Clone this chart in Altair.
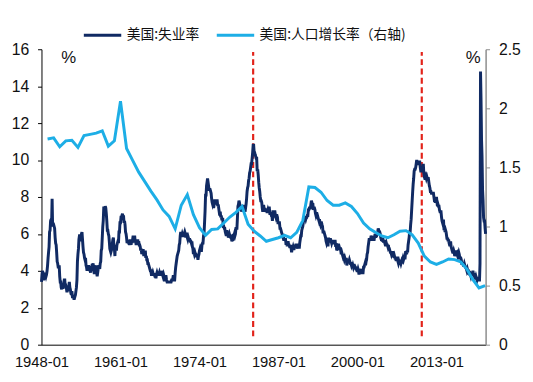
import altair as alt
import pandas as pd

# ---------------- data ----------------
unemp_start = "1948-01-01"
unemployment = [
    3.4, 3.8, 4.0, 3.9, 3.5, 3.6, 3.6, 3.9, 3.8, 3.7, 3.8, 4.0,   # 1948
    4.3, 4.7, 5.0, 5.3, 6.1, 6.2, 6.7, 6.8, 6.6, 7.9, 6.4, 6.6,   # 1949
    6.5, 6.4, 6.3, 5.8, 5.5, 5.4, 5.0, 4.5, 4.4, 4.2, 4.2, 4.3,   # 1950
    3.7, 3.4, 3.4, 3.1, 3.0, 3.2, 3.1, 3.1, 3.3, 3.5, 3.5, 3.1,   # 1951
    3.2, 3.1, 2.9, 2.9, 3.0, 3.0, 3.2, 3.4, 3.1, 3.0, 2.8, 2.7,   # 1952
    2.9, 2.6, 2.6, 2.7, 2.5, 2.5, 2.6, 2.7, 2.9, 3.1, 3.5, 4.5,   # 1953
    4.9, 5.2, 5.7, 5.9, 5.9, 5.6, 5.8, 6.0, 6.1, 5.7, 5.3, 5.0,   # 1954
    4.9, 4.7, 4.6, 4.7, 4.3, 4.2, 4.0, 4.2, 4.1, 4.3, 4.2, 4.2,   # 1955
    4.0, 3.9, 4.2, 4.0, 4.3, 4.3, 4.4, 4.1, 3.9, 3.9, 4.3, 4.2,   # 1956
    4.2, 3.9, 3.7, 3.9, 4.1, 4.3, 4.2, 4.1, 4.4, 4.5, 5.1, 5.2,   # 1957
    5.8, 6.4, 6.7, 7.4, 7.4, 7.3, 7.5, 7.4, 7.1, 6.7, 6.2, 6.2,   # 1958
    6.0, 5.9, 5.6, 5.2, 5.1, 5.0, 5.1, 5.2, 5.5, 5.7, 5.8, 5.3,   # 1959
    5.2, 4.8, 5.4, 5.2, 5.1, 5.4, 5.5, 5.6, 5.5, 6.1, 6.1, 6.6,   # 1960
    6.6, 6.9, 6.9, 7.0, 7.1, 6.9, 7.0, 6.6, 6.7, 6.5, 6.1, 6.0,   # 1961
    5.8, 5.5, 5.6, 5.6, 5.5, 5.5, 5.4, 5.7, 5.6, 5.4, 5.7, 5.5,   # 1962
    5.7, 5.9, 5.7, 5.7, 5.9, 5.6, 5.6, 5.4, 5.5, 5.5, 5.7, 5.5,   # 1963
    5.6, 5.4, 5.4, 5.3, 5.1, 5.2, 4.9, 5.0, 5.1, 5.1, 4.8, 5.0,   # 1964
    4.9, 5.1, 4.7, 4.8, 4.6, 4.6, 4.4, 4.4, 4.3, 4.2, 4.1, 4.0,   # 1965
    4.0, 3.8, 3.8, 3.8, 3.9, 3.8, 3.8, 3.8, 3.7, 3.7, 3.6, 3.8,   # 1966
    3.9, 3.8, 3.8, 3.8, 3.8, 3.9, 3.8, 3.8, 3.8, 4.0, 3.9, 3.8,   # 1967
    3.7, 3.8, 3.7, 3.5, 3.5, 3.7, 3.7, 3.5, 3.4, 3.4, 3.4, 3.4,   # 1968
    3.4, 3.4, 3.4, 3.4, 3.4, 3.5, 3.5, 3.5, 3.7, 3.7, 3.5, 3.5,   # 1969
    3.9, 4.2, 4.4, 4.6, 4.8, 4.9, 5.0, 5.1, 5.4, 5.5, 5.9, 6.1,   # 1970
    5.9, 5.9, 6.0, 5.9, 5.9, 5.9, 6.0, 6.1, 6.0, 5.8, 6.0, 6.0,   # 1971
    5.8, 5.7, 5.8, 5.7, 5.7, 5.7, 5.6, 5.6, 5.5, 5.6, 5.3, 5.2,   # 1972
    4.9, 5.0, 4.9, 5.0, 4.9, 4.9, 4.8, 4.8, 4.8, 4.6, 4.8, 4.9,   # 1973
    5.1, 5.2, 5.1, 5.1, 5.1, 5.4, 5.5, 5.5, 5.9, 6.0, 6.6, 7.2,   # 1974
    8.1, 8.1, 8.6, 8.8, 9.0, 8.8, 8.6, 8.4, 8.4, 8.4, 8.3, 8.2,   # 1975
    7.9, 7.7, 7.6, 7.7, 7.4, 7.6, 7.8, 7.8, 7.6, 7.7, 7.8, 7.8,   # 1976
    7.5, 7.6, 7.4, 7.2, 7.0, 7.2, 6.9, 7.0, 6.8, 6.8, 6.8, 6.4,   # 1977
    6.4, 6.3, 6.3, 6.1, 6.0, 5.9, 6.2, 5.9, 6.0, 5.8, 5.9, 6.0,   # 1978
    5.9, 5.9, 5.8, 5.8, 5.6, 5.7, 5.7, 6.0, 5.9, 6.0, 5.9, 6.0,   # 1979
    6.3, 6.3, 6.3, 6.9, 7.5, 7.6, 7.8, 7.7, 7.5, 7.5, 7.5, 7.2,   # 1980
    7.5, 7.4, 7.4, 7.2, 7.5, 7.5, 7.2, 7.4, 7.6, 7.9, 8.3, 8.5,   # 1981
    8.6, 8.9, 9.0, 9.3, 9.4, 9.6, 9.8, 9.8, 10.1, 10.4, 10.8, 10.8,  # 1982
    10.4, 10.4, 10.3, 10.2, 10.1, 10.1, 9.4, 9.5, 9.2, 8.8, 8.5, 8.3,  # 1983
    8.0, 7.8, 7.8, 7.7, 7.4, 7.2, 7.5, 7.5, 7.3, 7.4, 7.2, 7.3,   # 1984
    7.3, 7.2, 7.2, 7.3, 7.2, 7.4, 7.4, 7.1, 7.1, 7.1, 7.0, 7.0,   # 1985
    6.7, 7.2, 7.2, 7.1, 7.2, 7.2, 7.0, 6.9, 7.0, 7.0, 6.9, 6.6,   # 1986
    6.6, 6.6, 6.6, 6.3, 6.3, 6.2, 6.1, 6.0, 5.9, 6.0, 5.8, 5.7,   # 1987
    5.7, 5.7, 5.7, 5.4, 5.6, 5.4, 5.4, 5.6, 5.4, 5.4, 5.3, 5.3,   # 1988
    5.4, 5.2, 5.0, 5.2, 5.2, 5.3, 5.2, 5.2, 5.3, 5.3, 5.4, 5.4,   # 1989
    5.4, 5.3, 5.2, 5.4, 5.4, 5.2, 5.5, 5.7, 5.9, 5.9, 6.2, 6.3,   # 1990
    6.4, 6.6, 6.8, 6.7, 6.9, 6.9, 6.8, 6.9, 6.9, 7.0, 7.0, 7.3,   # 1991
    7.3, 7.4, 7.4, 7.4, 7.6, 7.8, 7.7, 7.6, 7.6, 7.3, 7.4, 7.4,   # 1992
    7.3, 7.1, 7.0, 7.1, 7.1, 7.0, 6.9, 6.8, 6.7, 6.8, 6.6, 6.5,   # 1993
    6.6, 6.6, 6.5, 6.4, 6.1, 6.1, 6.1, 6.0, 5.9, 5.8, 5.6, 5.5,   # 1994
    5.6, 5.4, 5.4, 5.8, 5.6, 5.6, 5.7, 5.7, 5.6, 5.5, 5.6, 5.6,   # 1995
    5.6, 5.5, 5.5, 5.6, 5.6, 5.3, 5.5, 5.1, 5.2, 5.2, 5.4, 5.4,   # 1996
    5.3, 5.2, 5.2, 5.1, 4.9, 5.0, 4.9, 4.8, 4.9, 4.7, 4.6, 4.7,   # 1997
    4.6, 4.6, 4.7, 4.3, 4.4, 4.5, 4.5, 4.5, 4.6, 4.5, 4.4, 4.4,   # 1998
    4.3, 4.4, 4.2, 4.3, 4.2, 4.3, 4.3, 4.2, 4.2, 4.1, 4.1, 4.0,   # 1999
    4.0, 4.1, 4.0, 3.8, 4.0, 4.0, 4.0, 4.1, 3.9, 3.9, 3.9, 3.9,   # 2000
    4.2, 4.2, 4.3, 4.4, 4.3, 4.5, 4.6, 4.9, 5.0, 5.3, 5.5, 5.7,   # 2001
    5.7, 5.7, 5.7, 5.9, 5.8, 5.8, 5.8, 5.7, 5.7, 5.7, 5.9, 6.0,   # 2002
    5.8, 5.9, 5.9, 6.0, 6.1, 6.3, 6.2, 6.1, 6.1, 6.0, 5.8, 5.7,   # 2003
    5.7, 5.6, 5.8, 5.6, 5.6, 5.6, 5.5, 5.4, 5.4, 5.5, 5.4, 5.4,   # 2004
    5.3, 5.4, 5.2, 5.2, 5.1, 5.0, 5.0, 4.9, 5.0, 5.0, 5.0, 4.9,   # 2005
    4.7, 4.8, 4.7, 4.7, 4.6, 4.6, 4.7, 4.7, 4.5, 4.4, 4.5, 4.4,   # 2006
    4.6, 4.5, 4.4, 4.5, 4.4, 4.6, 4.7, 4.6, 4.7, 4.7, 4.7, 5.0,   # 2007
    5.0, 4.9, 5.1, 5.0, 5.4, 5.6, 5.8, 6.1, 6.1, 6.5, 6.8, 7.3,   # 2008
    7.8, 8.3, 8.7, 9.0, 9.4, 9.5, 9.5, 9.6, 9.8, 10.0, 9.9, 9.9,  # 2009
    9.8, 9.8, 9.9, 9.9, 9.6, 9.4, 9.4, 9.5, 9.5, 9.4, 9.8, 9.3,   # 2010
    9.1, 9.0, 9.0, 9.1, 9.0, 9.1, 9.0, 9.0, 9.0, 8.8, 8.6, 8.5,   # 2011
    8.3, 8.3, 8.2, 8.2, 8.2, 8.2, 8.2, 8.0, 7.8, 7.8, 7.7, 7.9,   # 2012
    8.0, 7.7, 7.5, 7.6, 7.5, 7.5, 7.3, 7.2, 7.2, 7.2, 6.9, 6.7,   # 2013
    6.6, 6.7, 6.7, 6.2, 6.3, 6.1, 6.2, 6.1, 5.9, 5.7, 5.8, 5.6,   # 2014
    5.7, 5.5, 5.4, 5.4, 5.6, 5.3, 5.2, 5.1, 5.0, 5.0, 5.1, 5.0,   # 2015
    4.8, 4.9, 5.0, 5.1, 4.8, 4.9, 4.8, 4.9, 5.0, 4.9, 4.7, 4.7,   # 2016
    4.7, 4.6, 4.4, 4.4, 4.4, 4.3, 4.3, 4.4, 4.3, 4.2, 4.2, 4.1,   # 2017
    4.0, 4.1, 4.0, 4.0, 3.8, 4.0, 3.8, 3.8, 3.7, 3.8, 3.8, 3.9,   # 2018
    4.0, 3.8, 3.8, 3.7, 3.6, 3.6, 3.7, 3.6, 3.5, 3.6, 3.6, 3.6,   # 2019
    3.5, 3.5, 4.4, 14.8, 13.3, 11.1, 10.2, 8.4, 7.8, 6.9, 6.7, 6.7,  # 2020
    6.3, 6.0,                                                      # 2021
]

pop_years = list(range(1949, 2022))
pop_growth = [
    1.74, 1.75, 1.675, 1.725, 1.73, 1.67, 1.77, 1.78, 1.79, 1.81,   # 1949-1958
    1.68, 1.725, 2.06, 1.66, 1.56, 1.46, 1.38, 1.30, 1.225, 1.14,   # 1959-1968
    1.085, 0.98, 1.18, 1.27, 1.10, 0.99, 0.925, 0.975, 0.98, 1.03,  # 1969-1978
    1.08, 1.12, 1.17, 1.02, 0.96, 0.92, 0.875, 0.89, 0.905, 0.925,  # 1979-1988
    0.905, 0.95, 1.05, 1.335, 1.33, 1.29, 1.22, 1.18, 1.18, 1.20,   # 1989-1998
    1.17, 1.11, 1.03, 0.98, 0.95, 0.92, 0.905, 0.93, 0.96, 0.965,   # 1999-2008
    0.93, 0.86, 0.75, 0.70, 0.68, 0.70, 0.725, 0.72, 0.70, 0.64,    # 2009-2018
    0.55, 0.48, 0.50,                                               # 2019-2021
]

tick_years = [1948, 1961, 1974, 1987, 2000, 2013]
event_dates = ["1982-11-01", "2010-08-01"]
event_low = [0.45, 0.45]
event_high = [15.85, 15.85]

S1 = "美国:失业率"
S2 = "美国:人口增长率（右轴)"
NAVY = "#102A63"
LBLUE = "#1DAEE6"
RED = "#E2231A"

# ---------------- frames ----------------
u_dates = pd.date_range(unemp_start, periods=len(unemployment), freq="MS").strftime("%Y-%m-%d")
u_df = pd.DataFrame({"date": u_dates, "value": unemployment, "series": S1})
p_df = pd.DataFrame({"date": [f"{y}-01-01" for y in pop_years], "value": pop_growth, "series": S2})
ev_df = pd.DataFrame({"date": event_dates, "value": event_low, "hi": event_high})

FONT = "Liberation Sans"

x_scale = alt.Scale(type="utc",
                    domain=[alt.DateTime(year=1948, month=1, date=1, utc=True),
                            alt.DateTime(year=2021, month=2, date=1, utc=True)])
x_axis = alt.Axis(values=[alt.DateTime(year=y, month=1, date=1, utc=True) for y in tick_years],
                  format="%Y-%m", title=None, grid=False, ticks=False,
                  labelFontSize=15, labelFont=FONT, labelColor="#111",
                  labelPadding=10, domainColor="#000", domainWidth=1,
                  labelOverlap=False, labelFlush=False)
X = alt.X("date:T", scale=x_scale, axis=x_axis)

color = alt.Color("series:N",
                  scale=alt.Scale(domain=[S1, S2], range=[NAVY, LBLUE]),
                  legend=alt.Legend(orient="none", legendX=41.5, legendY=-35,
                                    direction="horizontal", title=None,
                                    symbolType="stroke", symbolSize=1444,
                                    symbolStrokeWidth=3, labelFontSize=14,
                                    labelFont="Noto Sans CJK SC", labelColor="#111",
                                    labelOffset=4, columnPadding=11, padding=0,
                                    labelLimit=400))

left_y = alt.Scale(domain=[0, 16], nice=False, zero=True)
left_axis = alt.Axis(values=list(range(0, 17, 2)), title="%", titleAngle=0,
                     titleX=27, titleY=8, titleAlign="center", titleBaseline="middle",
                     titleFontSize=17, titleFontWeight="normal", titleFont=FONT,
                     titleColor="#111",
                     grid=False, tickSize=4, labelPadding=9, labelFontSize=16,
                     labelFont=FONT, labelColor="#111", domainColor="#000",
                     tickColor="#000")
Y_LEFT = alt.Y("value:Q", scale=left_y, axis=left_axis)

line_u = alt.Chart(u_df).mark_line(strokeWidth=3, interpolate="linear").encode(
    x=X, y=Y_LEFT, color=color,
)

events = alt.Chart(ev_df).mark_rule(color=RED, strokeWidth=2.2, strokeDash=[6, 3.5]).encode(
    x=X, y=Y_LEFT, y2="hi:Q",
)

line_p = alt.Chart(p_df).mark_line(strokeWidth=3).encode(
    x=X,
    y=alt.Y("value:Q", scale=alt.Scale(domain=[0, 2.5], nice=False, zero=True),
            axis=alt.Axis(orient="right", values=[0, 0.5, 1, 1.5, 2, 2.5], format="~g",
                          title="%", titleAngle=0, titleX=-13, titleY=8,
                          titleAlign="center", titleBaseline="middle",
                          titleFontSize=17, titleFontWeight="normal", titleFont=FONT,
                          titleColor="#111",
                          grid=False, tickSize=4, labelPadding=9, labelFontSize=16,
                          labelFont=FONT, labelColor="#111",
                          domainColor="#8c8c8c", tickColor="#8c8c8c", domainWidth=1.5)),
    color=color,
)

left_group = alt.layer(events, line_u)

chart = alt.layer(left_group, line_p).resolve_scale(y="independent").properties(
    width=451, height=300,
    padding={"left": 34, "top": 39, "right": 40, "bottom": 35},
    autosize=alt.AutoSizeParams(type="none"),
    background="white",
).configure_view(stroke=None)

chart.save("out.html", embed_options={"renderer": "svg", "actions": False})
